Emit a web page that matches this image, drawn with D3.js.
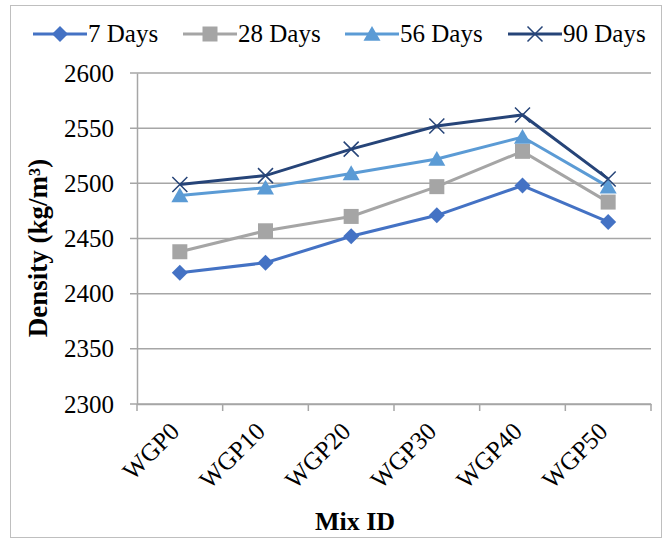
<!DOCTYPE html>
<html>
<head>
<meta charset="utf-8">
<script src="https://cdn.jsdelivr.net/npm/d3@7/dist/d3.min.js"></script>
<style>
  body { margin: 0; background: #fff; }
  svg text { font-family: "Liberation Serif", "Times New Roman", serif; fill: #000; }
</style>
</head>
<body>
<script>
var mixes = ['WGP0', 'WGP10', 'WGP20', 'WGP30', 'WGP40', 'WGP50'];
var seriesNames = ['7 Days', '28 Days', '56 Days', '90 Days'];
var days7  = [2419, 2428, 2452, 2471, 2498, 2465];
var days28 = [2438, 2457, 2470, 2497, 2529, 2483];
var days56 = [2489, 2496, 2509, 2522, 2542, 2497];
var days90 = [2499, 2507, 2531, 2552, 2562, 2504];
var yTicks = [2300, 2350, 2400, 2450, 2500, 2550, 2600];

var colors = ['#4472C4', '#A5A5A5', '#5B9BD5', '#264478'];
var series = [days7, days28, days56, days90];

// marker shapes, size = half width in px
var diamond = { draw: function(c, r) { c.moveTo(0, -r); c.lineTo(r, 0); c.lineTo(0, r); c.lineTo(-r, 0); c.closePath(); } };
var square = { draw: function(c, r) { c.rect(-r, -r, 2 * r, 2 * r); } };
var triangle = { draw: function(c, r) { c.moveTo(0, -r * 0.95); c.lineTo(r, r * 0.8); c.lineTo(-r, r * 0.8); c.closePath(); } };
var cross = { draw: function(c, r) { c.moveTo(-r, -r); c.lineTo(r, r); c.moveTo(r, -r); c.lineTo(-r, r); } };
var symbols = [diamond, square, triangle, cross];
var symSize = [8, 7.5, 8.5, 7.5];

var W = 667, H = 542;
var svg = d3.select('body').append('svg')
    .attr('width', W)
    .attr('height', H);

// outer frame
svg.append('rect')
    .attr('x', 10.5).attr('y', 5.5)
    .attr('width', 651).attr('height', 532)
    .attr('fill', '#fff')
    .attr('stroke', '#BFBFBF');

var pLeft = 137, pRight = 651, pTop = 73, pBottom = 404;

var x = d3.scaleBand().domain(mixes).range([pLeft, pRight]);
var y = d3.scaleLinear().domain([2300, 2600]).range([pBottom, pTop]);

// gridlines
svg.append('g').selectAll('line')
    .data(yTicks)
    .enter().append('line')
    .attr('x1', pLeft - 7).attr('x2', pRight)
    .attr('y1', function(d) { return y(d); })
    .attr('y2', function(d) { return y(d); })
    .attr('stroke', '#A6A6A6')
    .attr('stroke-width', 1.5);

// y axis
var yAxis = d3.axisLeft(y).tickValues(yTicks).tickSize(0).tickPadding(23).tickFormat(d3.format('d'));
var gy = svg.append('g')
    .attr('transform', 'translate(' + pLeft + ',0)')
    .call(yAxis);
gy.select('.domain').attr('stroke', '#A6A6A6').attr('stroke-width', 1.5);
gy.selectAll('text').style('font-size', '25px').style('font-family', '"Liberation Serif", serif');

// x axis
var gx = svg.append('g')
    .attr('transform', 'translate(0,' + pBottom + ')')
    .call(d3.axisBottom(x).tickSize(0).tickFormat(''));
gx.select('.domain').attr('stroke', '#A6A6A6').attr('stroke-width', 1.5);
gx.selectAll('.tick').remove();

// x tick marks between categories
var bounds = mixes.map(function(m) { return x(m); }).concat([pRight]);
svg.append('g').selectAll('line')
    .data(bounds)
    .enter().append('line')
    .attr('x1', function(d) { return d; })
    .attr('x2', function(d) { return d; })
    .attr('y1', pBottom).attr('y2', pBottom + 7)
    .attr('stroke', '#A6A6A6')
    .attr('stroke-width', 1.5);

// x labels rotated
svg.append('g').selectAll('text')
    .data(mixes)
    .enter().append('text')
    .attr('text-anchor', 'end')
    .attr('transform', function(d) {
        return 'translate(' + (x(d) + x.bandwidth() / 2 + 1) + ',' + (pBottom + 29) + ') rotate(-45)';
    })
    .style('font-size', '25px')
    .text(function(d) { return d; });

// axis titles
svg.append('text')
    .attr('text-anchor', 'middle')
    .attr('transform', 'translate(47,248) rotate(-90)')
    .style('font-size', '27px')
    .style('font-weight', 'bold')
    .text('Density (kg/m³)');

svg.append('text')
    .attr('x', 355)
    .attr('y', 530)
    .attr('text-anchor', 'middle')
    .style('font-size', '26px')
    .style('font-weight', 'bold')
    .text('Mix ID');

// lines
var cx = function(d, i) { return x(mixes[i]) + x.bandwidth() / 2; };
var line = d3.line()
    .x(cx)
    .y(function(d) { return y(d); });

function drawMarker(sel, s) {
    sel.attr('d', d3.symbol().type(symbols[s]).size(symSize[s]))
        .attr('fill', s === 3 ? 'none' : colors[s])
        .attr('stroke', s === 3 ? colors[s] : 'none')
        .attr('stroke-width', 1.5);
}

series.forEach(function(vals, s) {
    var g = svg.append('g');
    g.append('path')
        .datum(vals)
        .attr('d', line)
        .attr('fill', 'none')
        .attr('stroke', colors[s])
        .attr('stroke-width', 3);
    g.selectAll('path.m')
        .data(vals)
        .enter().append('path')
        .attr('class', 'm')
        .attr('transform', function(d, i) {
            return 'translate(' + cx(d, i) + ',' + y(d) + ')';
        })
        .call(drawMarker, s);
});

// legend
var legendX = [33, 183, 345, 508];
var legend = svg.append('g');
seriesNames.forEach(function(name, s) {
    var lg = legend.append('g').attr('transform', 'translate(' + legendX[s] + ',34)');
    lg.append('line')
        .attr('x1', 0).attr('x2', 54)
        .attr('stroke', colors[s])
        .attr('stroke-width', 3);
    lg.append('path')
        .attr('transform', 'translate(27,0)')
        .call(drawMarker, s);
    lg.append('text')
        .attr('x', 55)
        .attr('y', 8)
        .style('font-size', '25px')
        .text(name);
});
</script>
</body>
</html>
